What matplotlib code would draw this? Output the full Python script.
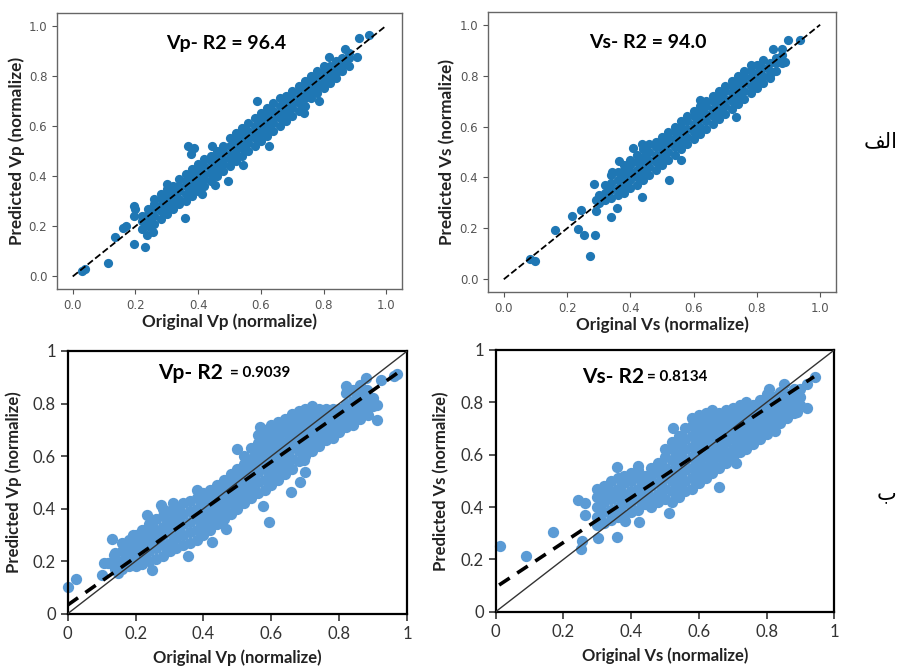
import matplotlib
matplotlib.use("Agg")
import matplotlib.pyplot as plt

# ---------------- data ----------------
# Panel (a) Vp  - dense core (columns of x with predicted values) + scattered points
vp_a_core_x = [0.22, 0.24, 0.26, 0.28, 0.30, 0.32, 0.34, 0.36, 0.38, 0.40, 0.42, 0.44,
               0.46, 0.48, 0.50, 0.52, 0.54, 0.56, 0.58, 0.60, 0.62, 0.64, 0.66, 0.68,
               0.70, 0.72, 0.74, 0.76, 0.78, 0.80, 0.82, 0.84, 0.86, 0.88]
vp_a_core_y = [[0.19, 0.22, 0.24], [0.20, 0.23, 0.25, 0.27], [0.21, 0.24, 0.27, 0.29, 0.31],
               [0.23, 0.26, 0.28, 0.31, 0.33], [0.25, 0.28, 0.30, 0.33, 0.35],
               [0.27, 0.29, 0.32, 0.34, 0.36], [0.29, 0.31, 0.34, 0.36, 0.39],
               [0.30, 0.33, 0.36, 0.38, 0.41], [0.32, 0.35, 0.38, 0.40, 0.43],
               [0.34, 0.37, 0.39, 0.42, 0.45], [0.36, 0.39, 0.41, 0.44, 0.47],
               [0.38, 0.41, 0.43, 0.46, 0.48], [0.40, 0.43, 0.45, 0.48, 0.50],
               [0.42, 0.45, 0.47, 0.50, 0.52], [0.44, 0.47, 0.49, 0.52, 0.55],
               [0.46, 0.49, 0.51, 0.54, 0.57], [0.48, 0.51, 0.53, 0.56, 0.59],
               [0.50, 0.53, 0.55, 0.58, 0.61], [0.52, 0.55, 0.57, 0.60, 0.63],
               [0.54, 0.57, 0.59, 0.62, 0.65], [0.56, 0.59, 0.61, 0.64, 0.67],
               [0.58, 0.61, 0.63, 0.66, 0.69], [0.60, 0.63, 0.65, 0.68, 0.71],
               [0.62, 0.65, 0.67, 0.70, 0.72], [0.64, 0.67, 0.69, 0.72, 0.74],
               [0.66, 0.69, 0.71, 0.74, 0.76], [0.68, 0.71, 0.73, 0.76, 0.78],
               [0.71, 0.73, 0.75, 0.78, 0.80], [0.73, 0.75, 0.77, 0.80, 0.82],
               [0.75, 0.77, 0.79, 0.82, 0.84], [0.77, 0.79, 0.82, 0.84],
               [0.79, 0.81, 0.84, 0.86], [0.82, 0.84, 0.87], [0.84, 0.87, 0.89]]
vp_a_out_x = [0.03, 0.04, 0.113, 0.134, 0.16, 0.17, 0.195, 0.232, 0.197, 0.199, 0.195,
              0.237, 0.256, 0.357, 0.30, 0.368, 0.386, 0.377, 0.444, 0.494, 0.542, 0.412,
              0.455, 0.588, 0.626, 0.739, 0.784, 0.912, 0.944, 0.869, 0.906, 0.816, 0.864]
vp_a_out_y = [0.02, 0.03, 0.053, 0.158, 0.195, 0.20, 0.129, 0.117, 0.28, 0.27, 0.24,
              0.166, 0.177, 0.232, 0.368, 0.518, 0.511, 0.49, 0.518, 0.381, 0.446, 0.33,
              0.363, 0.701, 0.518, 0.651, 0.70, 0.95, 0.963, 0.906, 0.876, 0.876, 0.85]

# Panel (a) Vs
vs_a_core_x = [0.30, 0.32, 0.34, 0.36, 0.38, 0.40, 0.42, 0.44, 0.46, 0.48, 0.50, 0.52,
               0.54, 0.56, 0.58, 0.60, 0.62, 0.64, 0.66, 0.68, 0.70, 0.72, 0.74, 0.76,
               0.78, 0.80, 0.82, 0.84, 0.86, 0.88]
vs_a_core_y = [[0.30, 0.33], [0.31, 0.34, 0.37], [0.32, 0.35, 0.38, 0.41],
               [0.33, 0.36, 0.39, 0.42], [0.34, 0.37, 0.40, 0.43, 0.45],
               [0.36, 0.39, 0.42, 0.45, 0.47], [0.37, 0.40, 0.43, 0.46, 0.49],
               [0.39, 0.42, 0.45, 0.48, 0.51], [0.41, 0.44, 0.47, 0.50, 0.53],
               [0.43, 0.46, 0.49, 0.52, 0.54], [0.45, 0.48, 0.51, 0.54, 0.56],
               [0.47, 0.50, 0.53, 0.56, 0.58], [0.49, 0.52, 0.55, 0.58, 0.60],
               [0.51, 0.54, 0.57, 0.60, 0.62], [0.53, 0.56, 0.59, 0.62, 0.64],
               [0.55, 0.58, 0.61, 0.64, 0.66], [0.57, 0.60, 0.63, 0.66, 0.68],
               [0.59, 0.62, 0.65, 0.68, 0.70], [0.61, 0.64, 0.67, 0.70, 0.72],
               [0.63, 0.66, 0.69, 0.72, 0.74], [0.65, 0.68, 0.71, 0.74, 0.76],
               [0.67, 0.70, 0.73, 0.76, 0.78], [0.69, 0.72, 0.75, 0.78, 0.80],
               [0.71, 0.74, 0.77, 0.80, 0.82], [0.73, 0.76, 0.79, 0.82, 0.84],
               [0.75, 0.78, 0.81, 0.84], [0.77, 0.80, 0.83, 0.86], [0.79, 0.82, 0.85],
               [0.82, 0.85, 0.87], [0.85, 0.88]]
vs_a_out_x = [0.083, 0.098, 0.162, 0.217, 0.233, 0.243, 0.254, 0.273, 0.288, 0.284,
              0.293, 0.293, 0.339, 0.357, 0.365, 0.341, 0.436, 0.41, 0.437, 0.521,
              0.619, 0.735, 0.852, 0.878, 0.899, 0.937, 0.889, 0.844, 0.561]
vs_a_out_y = [0.081, 0.071, 0.195, 0.249, 0.198, 0.274, 0.173, 0.09, 0.173, 0.374,
              0.31, 0.269, 0.244, 0.28, 0.464, 0.422, 0.531, 0.514, 0.324, 0.389,
              0.704, 0.636, 0.904, 0.903, 0.94, 0.94, 0.855, 0.811, 0.468]

# Panel (b) Vp
vp_b_core_x = [0.14, 0.16, 0.18, 0.20, 0.22, 0.24, 0.26, 0.28, 0.30, 0.32, 0.34, 0.36,
               0.38, 0.40, 0.42, 0.44, 0.46, 0.48, 0.50, 0.52, 0.54, 0.56, 0.58, 0.60,
               0.62, 0.64, 0.66, 0.68, 0.70, 0.72, 0.74, 0.76, 0.78, 0.80, 0.82, 0.84,
               0.86, 0.88, 0.90]
vp_b_core_y = [[0.17, 0.20, 0.23], [0.17, 0.20, 0.24, 0.27], [0.18, 0.22, 0.25, 0.28],
               [0.18, 0.21, 0.24, 0.27, 0.30], [0.19, 0.22, 0.26, 0.29, 0.32],
               [0.20, 0.24, 0.27, 0.30, 0.34], [0.21, 0.25, 0.28, 0.32, 0.36],
               [0.22, 0.26, 0.30, 0.33, 0.37, 0.40], [0.24, 0.27, 0.31, 0.35, 0.39],
               [0.25, 0.29, 0.32, 0.36, 0.40], [0.26, 0.30, 0.34, 0.38, 0.42],
               [0.27, 0.31, 0.35, 0.39, 0.43], [0.28, 0.32, 0.36, 0.40, 0.44, 0.47],
               [0.30, 0.34, 0.38, 0.42, 0.46], [0.32, 0.36, 0.40, 0.44, 0.47],
               [0.34, 0.38, 0.42, 0.46, 0.49], [0.36, 0.40, 0.44, 0.48, 0.51],
               [0.38, 0.42, 0.46, 0.50, 0.53], [0.40, 0.44, 0.48, 0.52, 0.55],
               [0.42, 0.46, 0.50, 0.54, 0.57, 0.60], [0.44, 0.48, 0.52, 0.56, 0.59, 0.63],
               [0.46, 0.50, 0.54, 0.58, 0.61, 0.65, 0.68],
               [0.47, 0.51, 0.55, 0.59, 0.63, 0.67, 0.70],
               [0.49, 0.53, 0.57, 0.61, 0.65, 0.69, 0.72],
               [0.51, 0.55, 0.59, 0.63, 0.67, 0.71, 0.73],
               [0.53, 0.57, 0.61, 0.65, 0.69, 0.72, 0.74],
               [0.55, 0.59, 0.63, 0.67, 0.70, 0.73, 0.76],
               [0.58, 0.62, 0.65, 0.69, 0.72, 0.75, 0.77],
               [0.60, 0.64, 0.67, 0.70, 0.73, 0.76, 0.78],
               [0.62, 0.65, 0.68, 0.71, 0.74, 0.77, 0.79],
               [0.64, 0.67, 0.70, 0.73, 0.76, 0.78], [0.66, 0.69, 0.72, 0.75, 0.78],
               [0.67, 0.70, 0.73, 0.76, 0.78], [0.69, 0.72, 0.75, 0.78],
               [0.71, 0.74, 0.77, 0.80, 0.84], [0.72, 0.75, 0.78, 0.81, 0.85],
               [0.74, 0.77, 0.80, 0.83, 0.87], [0.76, 0.79, 0.82, 0.85], [0.79, 0.82]]
vp_b_out_x = [0.0, 0.025, 0.10, 0.108, 0.12, 0.132, 0.137, 0.149, 0.191, 0.225, 0.235,
              0.247, 0.274, 0.311, 0.353, 0.425, 0.466, 0.499, 0.566, 0.594, 0.576,
              0.658, 0.684, 0.699, 0.696, 0.821, 0.878, 0.91, 0.912, 0.924, 0.969,
              0.96, 0.885]
vp_b_out_y = [0.103, 0.133, 0.146, 0.194, 0.194, 0.283, 0.223, 0.156, 0.30, 0.308, 0.374,
              0.166, 0.414, 0.423, 0.22, 0.273, 0.321, 0.627, 0.712, 0.349, 0.41,
              0.464, 0.503, 0.541, 0.585, 0.867, 0.896, 0.737, 0.796, 0.89, 0.911,
              0.905, 0.756]
vp_b_trend_x = [0.0, 0.97]
vp_b_trend_y = [0.033, 0.915]

# Panel (b) Vs
vs_b_core_x = [0.30, 0.32, 0.34, 0.36, 0.38, 0.40, 0.42, 0.44, 0.46, 0.48, 0.50, 0.52,
               0.54, 0.56, 0.58, 0.60, 0.62, 0.64, 0.66, 0.68, 0.70, 0.72, 0.74, 0.76,
               0.78, 0.80, 0.82, 0.84, 0.86, 0.88, 0.90]
vs_b_core_y = [[0.33, 0.36, 0.40, 0.44, 0.47], [0.34, 0.38, 0.42, 0.45, 0.48],
               [0.35, 0.39, 0.43, 0.46, 0.50], [0.36, 0.40, 0.44, 0.47, 0.51],
               [0.37, 0.41, 0.45, 0.49, 0.52], [0.38, 0.42, 0.46, 0.50, 0.53],
               [0.39, 0.43, 0.47, 0.51, 0.54], [0.41, 0.45, 0.49, 0.52],
               [0.40, 0.44, 0.48, 0.52, 0.55], [0.42, 0.45, 0.49, 0.53, 0.57],
               [0.43, 0.47, 0.51, 0.55, 0.59, 0.62],
               [0.42, 0.46, 0.50, 0.54, 0.58, 0.62, 0.65],
               [0.44, 0.48, 0.52, 0.56, 0.60, 0.64, 0.67],
               [0.46, 0.50, 0.54, 0.58, 0.62, 0.66, 0.70],
               [0.47, 0.51, 0.55, 0.59, 0.63, 0.67, 0.71, 0.74],
               [0.49, 0.53, 0.57, 0.61, 0.65, 0.69, 0.72, 0.75],
               [0.51, 0.55, 0.59, 0.63, 0.67, 0.71, 0.74, 0.76],
               [0.53, 0.57, 0.61, 0.65, 0.69, 0.72, 0.75, 0.77],
               [0.55, 0.59, 0.63, 0.67, 0.70, 0.73, 0.76],
               [0.57, 0.61, 0.65, 0.68, 0.71, 0.74, 0.77],
               [0.59, 0.62, 0.66, 0.69, 0.72, 0.75, 0.78],
               [0.61, 0.64, 0.67, 0.70, 0.73, 0.76, 0.79],
               [0.62, 0.65, 0.68, 0.71, 0.74, 0.77, 0.80],
               [0.64, 0.67, 0.70, 0.73, 0.76, 0.79], [0.66, 0.69, 0.72, 0.75, 0.78, 0.81],
               [0.68, 0.71, 0.74, 0.77, 0.80, 0.83], [0.70, 0.73, 0.76, 0.79, 0.82],
               [0.72, 0.75, 0.78, 0.81, 0.84], [0.74, 0.77, 0.80, 0.83],
               [0.76, 0.79, 0.82, 0.85], [0.79, 0.82, 0.85]]
vs_b_out_x = [0.013, 0.09, 0.168, 0.244, 0.264, 0.264, 0.251, 0.254, 0.303, 0.357,
              0.419, 0.357, 0.382, 0.423, 0.512, 0.523, 0.66, 0.71, 0.825, 0.889, 0.92,
              0.918, 0.943, 0.852, 0.808]
vs_b_out_y = [0.251, 0.213, 0.303, 0.425, 0.414, 0.368, 0.239, 0.271, 0.28, 0.554,
              0.557, 0.287, 0.348, 0.341, 0.376, 0.70, 0.475, 0.569, 0.692, 0.762, 0.777,
              0.87, 0.898, 0.87, 0.85]
vs_b_trend_x = [0.01, 0.94]
vs_b_trend_y = [0.102, 0.898]

ticks_b = [0, 0.2, 0.4, 0.6, 0.8, 1.0]
tick_labels_b = ["0", "0.2", "0.4", "0.6", "0.8", "1"]


def flatten(core_x, core_y, out_x, out_y):
    xs = [x for x, col in zip(core_x, core_y) for _ in col] + list(out_x)
    ys = [y for col in core_y for y in col] + list(out_y)
    return xs, ys


# ---------------- figure ----------------
fig = plt.figure(figsize=(9.01, 6.67), dpi=100)
LABEL_FONT = "Lato"

top_blue = "#1f77b4"
bot_blue = "#5b9bd5"


def top_panel(rect, core_x, core_y, out_x, out_y, title, tx, ty, xlabel, ylabel):
    ax = fig.add_axes(rect)
    xs, ys = flatten(core_x, core_y, out_x, out_y)
    ax.scatter(xs, ys, s=44, color=top_blue, linewidths=0, zorder=2)
    ax.plot([0, 1], [0, 1], "--", color="black", lw=1.3, zorder=3)
    ax.set_xlim(-0.05, 1.05)
    ax.set_ylim(-0.05, 1.05)
    ax.set_xticks([0, 0.2, 0.4, 0.6, 0.8, 1.0])
    ax.set_yticks([0, 0.2, 0.4, 0.6, 0.8, 1.0])
    ax.tick_params(labelsize=8.5, colors="#555555", length=3.5, width=0.8)
    for s in ax.spines.values():
        s.set_color("#666666")
        s.set_linewidth(1.0)
    ax.text(tx, ty, title, fontsize=14, fontweight="bold", family=LABEL_FONT,
            ha="center", va="center", color="black")
    ax.set_xlabel(xlabel, fontsize=12.3, fontweight="bold", family=LABEL_FONT,
                  color="#222222", labelpad=1)
    ax.set_ylabel(ylabel, fontsize=12.3, fontweight="bold", family=LABEL_FONT,
                  color="#222222", labelpad=3)
    return ax


def bottom_panel(rect, core_x, core_y, out_x, out_y, trend_x, trend_y,
                 big, bx, small, sx, ty, xlabel, ylabel):
    ax = fig.add_axes(rect)
    xs, ys = flatten(core_x, core_y, out_x, out_y)
    ax.scatter(xs, ys, s=66, color=bot_blue, linewidths=0, zorder=2, clip_on=False)
    ax.plot([0, 1], [0, 1], "-", color="#333333", lw=1.0, zorder=3)
    ax.plot(trend_x, trend_y, color="black", lw=2.6, dashes=(3.5, 2.5), zorder=4)
    ax.set_xlim(0, 1)
    ax.set_ylim(0, 1)
    ax.set_xticks(ticks_b)
    ax.set_xticklabels(tick_labels_b)
    ax.set_yticks(ticks_b)
    ax.set_yticklabels(tick_labels_b)
    ax.tick_params(labelsize=12, colors="#333333", length=5, width=1.2, direction="out")
    for lab in ax.get_xticklabels() + ax.get_yticklabels():
        lab.set_family(LABEL_FONT)
    for s in ax.spines.values():
        s.set_color("black")
        s.set_linewidth(1.6)
    ax.text(bx, ty, big, fontsize=15, fontweight="bold", family=LABEL_FONT,
            ha="left", va="center", color="black")
    ax.text(sx, ty, small, fontsize=11, fontweight="bold", family=LABEL_FONT,
            ha="left", va="center", color="black")
    ax.set_xlabel(xlabel, fontsize=12, fontweight="bold", family=LABEL_FONT,
                  color="#222222", labelpad=6)
    ax.set_ylabel(ylabel, fontsize=12, fontweight="bold", family=LABEL_FONT,
                  color="#222222", labelpad=8)
    return ax


top_panel([0.0633, 0.5667, 0.3829, 0.4138], vp_a_core_x, vp_a_core_y, vp_a_out_x, vp_a_out_y,
          "Vp- R2 = 96.4", 0.49, 0.93, "Original Vp (normalize)", "Predicted Vp (normalize)")
top_panel([0.5416, 0.5622, 0.3862, 0.4198], vs_a_core_x, vs_a_core_y, vs_a_out_x, vs_a_out_y,
          "Vs- R2 = 94.0", 0.456, 0.93, "Original Vs (normalize)", "Predicted Vs (normalize)")
bottom_panel([0.0751, 0.0799, 0.3769, 0.3939], vp_b_core_x, vp_b_core_y, vp_b_out_x, vp_b_out_y,
             vp_b_trend_x, vp_b_trend_y, "Vp- R2", 0.266, "= 0.9039", 0.478, 0.917,
             "Original Vp (normalize)", "Predicted Vp (normalize)")
bottom_panel([0.5502, 0.0829, 0.3758, 0.3924], vs_b_core_x, vs_b_core_y, vs_b_out_x, vs_b_out_y,
             vs_b_trend_x, vs_b_trend_y, "Vs- R2", 0.256, "= 0.8134", 0.448, 0.898,
             "Original Vs (normalize)", "Predicted Vs (normalize)")

# Persian panel labels (presentation forms so glyphs are joined right-to-left)
fig.text(898 / 901, 1 - 141 / 667, "\uFED2\uFEDF\uFE8D", fontsize=15, family="DejaVu Sans",
         ha="right", va="center", color="black")
fig.text(886 / 901, 1 - 493 / 667, "\u0628", fontsize=15, family="DejaVu Sans",
         ha="center", va="center", color="black")

fig.savefig("out.png", dpi=100)
